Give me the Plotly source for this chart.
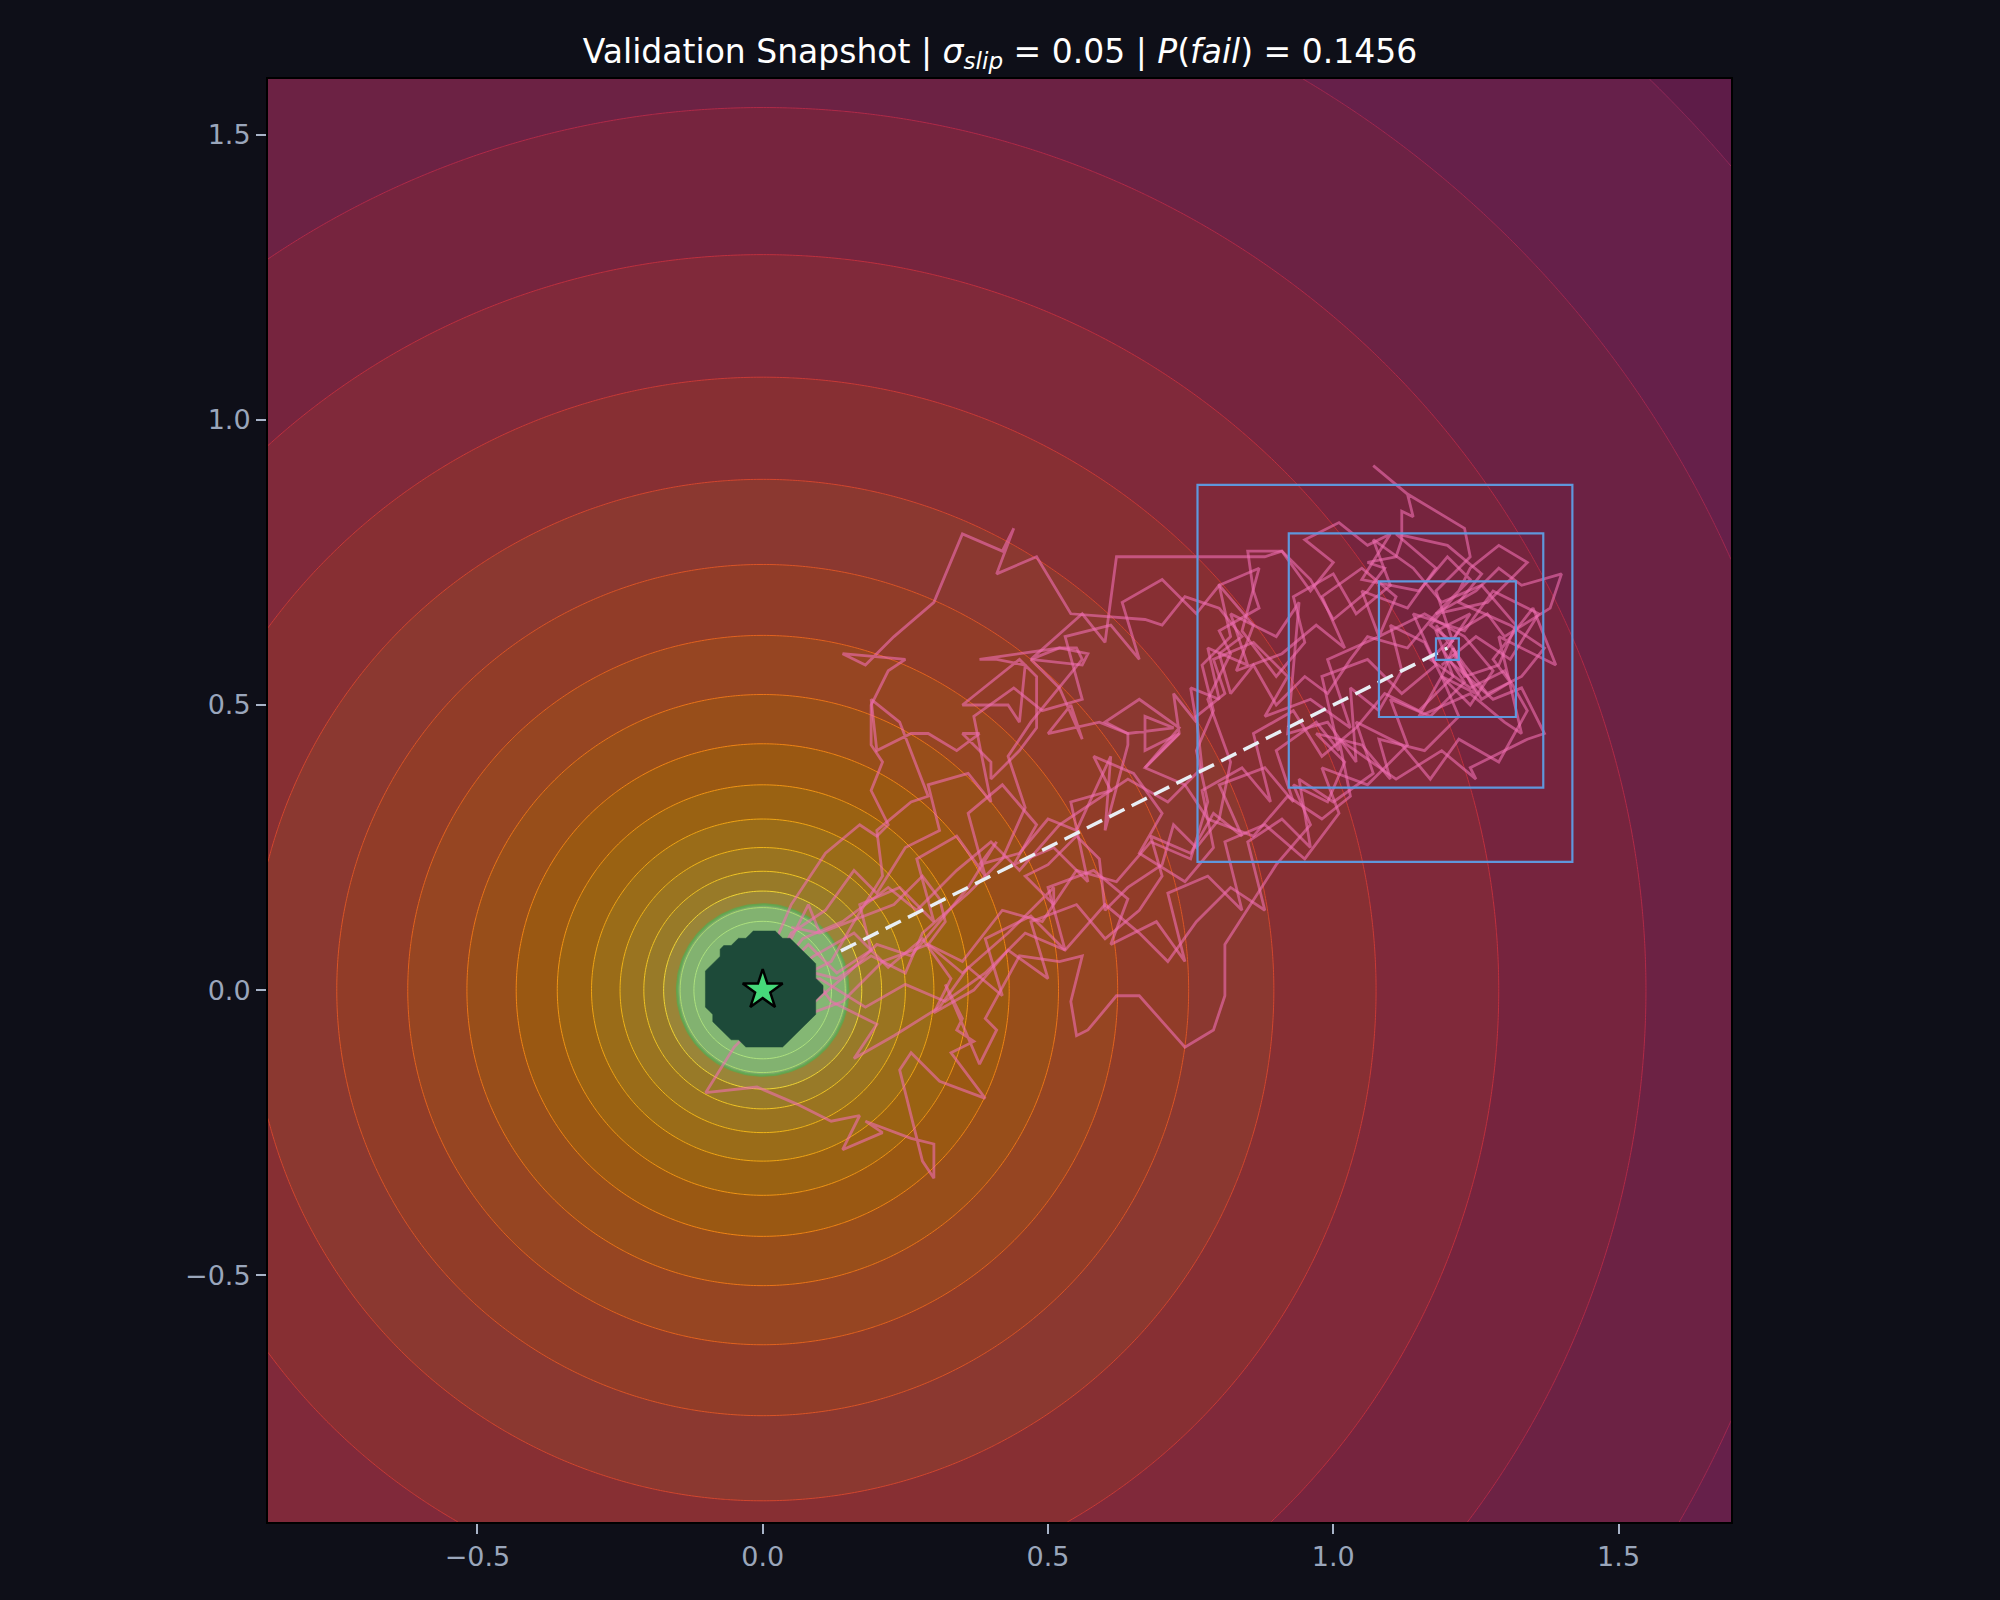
import numpy as np
import plotly.graph_objects as go

# ---------------- data ----------------
x_range = [-0.867, 1.697]
y_range = [-0.933, 1.598]
goal = [0.0, 0.0]
target = [1.2, 0.6]
goal_radius = 0.15
goal_core_radius = 0.1

# contour levels: radii ring_r0 * ring_ratio**k, k = k_min..k_max
ring_r0 = 0.25
ring_ratio = 1.2
k_min, k_max = -4, 12

band_colors = ["#a09a4a", "#9c9142", "#9a8538", "#987a28", "#9a7420", "#9a6c18",
               "#9a6212", "#9a5812", "#984e1a", "#964522", "#913c28", "#8b3830",
               "#872f33", "#80293a", "#76243e", "#6c2244", "#66204a", "#5e1c48"]
line_colors = ["#f4f060", "#f2e448", "#f0d434", "#f0c424", "#f0b418", "#f0a414",
               "#f09414", "#f08414", "#ea7418", "#e2621e", "#da5426", "#d2462e",
               "#c83a36", "#be303e", "#b02a48", "#a02850", "#902858"]

box_x0 = [0.762, 0.922, 1.080, 1.180]
box_x1 = [1.419, 1.368, 1.320, 1.220]
box_y0 = [0.225, 0.355, 0.479, 0.579]
box_y1 = [0.886, 0.801, 0.717, 0.617]

dash_x = [0.137, 1.200]
dash_y = [0.0687, 0.600]

path_a_x = [0.00, -0.02, -0.05, -0.10, -0.01, 0.06, 0.12, 0.17, 0.14, 0.21, 0.18, 0.26, 0.30, 0.30, 0.28, 0.24, 0.26, 0.31, 0.39, 0.33, 0.37, 0.34, 0.35, 0.32, 0.38, 0.41, 0.39, 0.45, 0.52, 0.56, 0.54, 0.55, 0.57, 0.62, 0.66, 0.74, 0.79, 0.81, 0.81, 0.90, 0.96, 0.93, 0.99, 1.02, 0.97, 1.05, 1.10, 1.08, 1.16, 1.22, 1.19, 1.25, 1.21]
path_a_y = [0.00, -0.07, -0.10, -0.18, -0.17, -0.20, -0.23, -0.22, -0.28, -0.25, -0.23, -0.26, -0.27, -0.33, -0.30, -0.14, -0.11, -0.16, -0.19, -0.11, -0.09, -0.07, -0.05, 0.01, -0.13, -0.07, -0.05, 0.06, 0.05, 0.06, -0.02, -0.08, -0.07, -0.01, -0.01, -0.10, -0.07, -0.01, 0.08, 0.22, 0.29, 0.36, 0.33, 0.40, 0.45, 0.43, 0.37, 0.44, 0.42, 0.48, 0.55, 0.52, 0.60]

path_b_x = [0.00, 0.04, 0.08, 0.10, 0.05, 0.10, 0.23, 0.28, 0.31, 0.32, 0.29, 0.35, 0.43, 0.51, 0.51, 0.46, 0.50, 0.55, 0.59, 0.60, 0.62, 0.64, 0.70, 0.72, 0.76, 0.80, 0.82, 0.78, 0.82, 0.80, 0.87, 0.86, 0.85, 0.91, 0.96, 1.00, 1.06, 1.09, 1.06, 1.11, 1.12, 1.12, 1.14, 1.13, 1.07, 1.13, 1.23, 1.24, 1.22, 1.18, 1.21]
path_b_y = [0.00, 0.07, 0.15, 0.10, 0.11, 0.10, 0.15, 0.20, 0.16, 0.12, 0.08, 0.03, 0.10, 0.18, 0.15, 0.20, 0.22, 0.27, 0.23, 0.14, 0.16, 0.18, 0.22, 0.29, 0.25, 0.30, 0.40, 0.51, 0.59, 0.63, 0.67, 0.70, 0.77, 0.77, 0.72, 0.65, 0.70, 0.74, 0.75, 0.76, 0.79, 0.84, 0.83, 0.87, 0.92, 0.87, 0.81, 0.76, 0.74, 0.70, 0.61]

path_c_x = [0.00, 0.02, 0.05, 0.11, 0.17, 0.20, 0.22, 0.19, 0.21, 0.19, 0.19, 0.22, 0.25, 0.14, 0.18, 0.23, 0.30, 0.35, 0.42, 0.44, 0.41, 0.48, 0.54, 0.67, 0.70, 0.74, 0.80, 0.84, 0.80, 0.82, 0.86, 0.90, 0.95, 0.99, 1.03, 1.06, 1.13, 1.18, 1.25, 1.29, 1.33, 1.40, 1.38, 1.30, 1.27, 1.22, 1.20]
path_c_y = [0.00, 0.08, 0.15, 0.24, 0.29, 0.27, 0.29, 0.35, 0.40, 0.43, 0.50, 0.56, 0.58, 0.59, 0.57, 0.62, 0.68, 0.80, 0.77, 0.81, 0.73, 0.76, 0.66, 0.65, 0.64, 0.69, 0.67, 0.62, 0.59, 0.52, 0.57, 0.50, 0.55, 0.52, 0.58, 0.62, 0.60, 0.66, 0.70, 0.74, 0.71, 0.73, 0.67, 0.62, 0.66, 0.63, 0.60]

path_d_x = [0.00, 0.06, 0.12, 0.16, 0.21, 0.20, 0.26, 0.29, 0.24, 0.19, 0.20, 0.26, 0.29, 0.34, 0.38, 0.35, 0.40, 0.40, 0.45, 0.48, 0.48, 0.45, 0.35, 0.43, 0.45, 0.46, 0.41, 0.38, 0.52, 0.57, 0.56, 0.47, 0.52, 0.56, 0.54, 0.50, 0.59, 0.64, 0.72, 0.67, 0.67, 0.73, 0.67, 0.74, 0.78, 0.86, 0.92, 0.98, 1.03, 1.01, 1.11, 1.19, 1.25, 1.24, 1.34, 1.37, 1.33, 1.28, 1.20]
path_d_y = [0.00, 0.02, 0.05, 0.12, 0.20, 0.28, 0.33, 0.34, 0.47, 0.51, 0.42, 0.45, 0.45, 0.42, 0.45, 0.45, 0.40, 0.37, 0.42, 0.46, 0.55, 0.58, 0.50, 0.50, 0.47, 0.57, 0.58, 0.58, 0.60, 0.59, 0.57, 0.58, 0.53, 0.44, 0.50, 0.45, 0.47, 0.45, 0.46, 0.48, 0.42, 0.45, 0.39, 0.36, 0.30, 0.27, 0.34, 0.30, 0.34, 0.44, 0.37, 0.42, 0.37, 0.39, 0.44, 0.45, 0.53, 0.51, 0.58]

path_e_x = [0.00, 0.08, 0.15, 0.20, 0.26, 0.31, 0.36, 0.41, 0.38, 0.45, 0.50, 0.55, 0.61, 0.60, 0.64, 0.64, 0.60, 0.66, 0.73, 0.67, 0.73, 0.72, 0.76, 0.75, 0.80, 0.78, 0.85, 0.82, 0.90, 0.94, 0.92, 0.99, 1.04, 1.03, 1.08, 1.12, 1.10, 1.16, 1.19, 1.15, 1.24, 1.30, 1.33, 1.29, 1.39, 1.35, 1.28, 1.31, 1.26, 1.21]
path_e_y = [0.00, -0.03, 0.03, 0.08, 0.06, 0.12, 0.18, 0.26, 0.22, 0.24, 0.30, 0.28, 0.41, 0.28, 0.43, 0.45, 0.47, 0.51, 0.46, 0.39, 0.45, 0.52, 0.47, 0.53, 0.51, 0.60, 0.57, 0.66, 0.62, 0.68, 0.45, 0.47, 0.40, 0.53, 0.49, 0.56, 0.64, 0.61, 0.55, 0.48, 0.52, 0.47, 0.45, 0.62, 0.57, 0.67, 0.58, 0.54, 0.51, 0.59]

path_f_x = [0.00, 0.05, 0.13, 0.19, 0.25, 0.28, 0.36, 0.42, 0.46, 0.43, 0.47, 0.52, 0.56, 0.55, 0.52, 0.47, 0.56, 0.60, 0.62, 0.74, 0.85, 0.88, 0.91, 0.96, 1.00, 0.95, 1.01, 1.06, 1.10, 1.05, 1.15, 1.20, 1.24, 1.18, 1.27, 1.34, 1.29, 1.24, 1.22, 1.17, 1.21]
path_f_y = [0.00, 0.04, 0.02, 0.06, 0.03, 0.10, 0.17, 0.23, 0.32, 0.41, 0.47, 0.53, 0.58, 0.60, 0.60, 0.58, 0.66, 0.61, 0.76, 0.76, 0.76, 0.76, 0.77, 0.70, 0.75, 0.79, 0.82, 0.78, 0.80, 0.72, 0.70, 0.76, 0.72, 0.66, 0.68, 0.75, 0.78, 0.74, 0.70, 0.64, 0.61]

path_g_x = [0.00, 0.09, 0.16, 0.22, 0.28, 0.33, 0.30, 0.37, 0.43, 0.50, 0.47, 0.55, 0.60, 0.66, 0.70, 0.68, 0.75, 0.79, 0.84, 0.80, 0.88, 0.93, 0.90, 0.97, 1.01, 0.98, 1.06, 1.12, 1.18, 1.14, 1.23, 1.28, 1.36, 1.31, 1.25, 1.19]
path_g_y = [0.00, 0.06, 0.10, 0.04, 0.09, 0.02, -0.04, 0.00, 0.07, 0.02, 0.12, 0.15, 0.09, 0.14, 0.20, 0.27, 0.24, 0.31, 0.27, 0.36, 0.39, 0.33, 0.42, 0.47, 0.42, 0.55, 0.58, 0.52, 0.57, 0.66, 0.63, 0.70, 0.66, 0.58, 0.62, 0.57]

path_h_x = [0.00, 0.07, 0.14, 0.22, 0.27, 0.34, 0.40, 0.45, 0.52, 0.58, 0.64, 0.71, 0.77, 0.76, 0.81, 0.79, 0.86, 0.92, 0.88, 0.96, 1.03, 0.99, 1.08, 1.05, 1.13, 1.18, 1.11, 1.20, 1.26, 1.22, 1.31, 1.37, 1.33, 1.27, 1.23, 1.18, 1.21]
path_h_y = [0.00, 0.09, 0.12, 0.18, 0.14, 0.21, 0.26, 0.21, 0.29, 0.33, 0.37, 0.33, 0.39, 0.48, 0.52, 0.58, 0.61, 0.55, 0.48, 0.51, 0.46, 0.58, 0.62, 0.70, 0.67, 0.74, 0.80, 0.78, 0.73, 0.68, 0.64, 0.60, 0.55, 0.52, 0.57, 0.64, 0.60]

path_i_x = [0.00, 0.05, 0.11, 0.16, 0.20, 0.25, 0.31, 0.29, 0.36, 0.40, 0.37, 0.44, 0.49, 0.56, 0.53, 0.61, 0.66, 0.63, 0.70, 0.76, 0.80, 0.86, 0.83, 0.91, 0.97, 1.02, 0.98, 1.05, 1.11, 1.08, 1.16, 1.23, 1.28, 1.24, 1.19, 1.21]
path_i_y = [0.00, 0.10, 0.14, 0.21, 0.17, 0.25, 0.28, 0.36, 0.38, 0.33, 0.48, 0.53, 0.49, 0.51, 0.62, 0.64, 0.58, 0.68, 0.72, 0.66, 0.71, 0.64, 0.56, 0.59, 0.64, 0.60, 0.69, 0.74, 0.69, 0.62, 0.66, 0.62, 0.56, 0.50, 0.55, 0.60]

path_j_x = [0.00, 0.10, 0.18, 0.25, 0.32, 0.39, 0.46, 0.53, 0.60, 0.66, 0.71, 0.76, 0.82, 0.88, 0.85, 0.91, 0.96, 0.94, 1.00, 1.07, 1.04, 1.12, 1.17, 1.22, 1.29, 1.34, 1.30, 1.24, 1.17, 1.20]
path_j_y = [0.00, 0.02, -0.03, 0.01, -0.02, 0.03, 0.10, 0.07, 0.15, 0.10, 0.05, 0.12, 0.18, 0.14, 0.26, 0.30, 0.25, 0.37, 0.33, 0.38, 0.47, 0.43, 0.37, 0.44, 0.40, 0.49, 0.56, 0.53, 0.58, 0.61]

path_k_x = [0.00, 0.08, 0.13, 0.19, 0.17, 0.24, 0.30, 0.27, 0.34, 0.39, 0.36, 0.42, 0.48, 0.44, 0.51, 0.57, 0.54, 0.61, 0.58, 0.65, 0.70, 0.66, 0.74, 0.79, 0.77, 0.84, 0.89, 0.86, 0.93, 0.98, 1.04, 1.09, 1.15, 1.21, 1.18, 1.24, 1.20]
path_k_y = [0.00, 0.08, 0.03, 0.07, 0.15, 0.18, 0.12, 0.23, 0.27, 0.20, 0.31, 0.36, 0.29, 0.22, 0.25, 0.19, 0.33, 0.35, 0.41, 0.38, 0.31, 0.24, 0.19, 0.25, 0.35, 0.39, 0.33, 0.45, 0.49, 0.41, 0.46, 0.52, 0.49, 0.55, 0.63, 0.66, 0.60]

path_l_x = [0.00, 0.06, 0.14, 0.21, 0.29, 0.35, 0.42, 0.49, 0.55, 0.62, 0.68, 0.75, 0.78, 0.76, 0.79, 0.77, 0.82, 0.80, 0.87, 0.84, 0.90, 0.95, 0.93, 1.00, 1.04, 1.10, 1.07, 1.14, 1.19, 1.26, 1.32, 1.29, 1.23, 1.21]
path_l_y = [0.00, -0.05, -0.02, 0.05, 0.08, 0.05, 0.14, 0.12, 0.21, 0.19, 0.26, 0.23, 0.33, 0.42, 0.49, 0.57, 0.62, 0.71, 0.74, 0.63, 0.55, 0.61, 0.69, 0.73, 0.66, 0.71, 0.79, 0.74, 0.68, 0.71, 0.64, 0.57, 0.55, 0.60]

path_m_x = [0.00, 0.07, 0.12, 0.20, 0.16, 0.23, 0.31, 0.36, 0.42, 0.39, 0.47, 0.53, 0.50, 0.58, 0.64, 0.61, 0.69, 0.74, 0.71, 0.78, 0.84, 0.81, 0.88, 0.95, 1.01, 0.98, 1.06, 1.13, 1.10, 1.17, 1.23, 1.19]
path_m_y = [0.00, 0.05, -0.02, -0.06, -0.12, -0.08, -0.03, 0.04, -0.01, 0.09, 0.13, 0.07, 0.18, 0.21, 0.16, 0.08, 0.12, 0.05, 0.17, 0.20, 0.14, 0.26, 0.29, 0.23, 0.31, 0.39, 0.36, 0.43, 0.51, 0.48, 0.54, 0.60]

paths = [(path_a_x, path_a_y), (path_b_x, path_b_y), (path_c_x, path_c_y),
         (path_d_x, path_d_y), (path_e_x, path_e_y), (path_f_x, path_f_y),
         (path_g_x, path_g_y), (path_h_x, path_h_y), (path_i_x, path_i_y),
         (path_j_x, path_j_y), (path_k_x, path_k_y), (path_l_x, path_l_y),
         (path_m_x, path_m_y)]

title_html = ("Validation Snapshot | <i>σ</i><sub><i>slip</i></sub> = 0.05 | "
              "<i>P</i>(<i>fail</i>) = 0.1456")

# ---------------- styles ----------------
BG = "#0e0f18"
FONT = "DejaVu Sans"
TICK_COLOR = "#9aa6bb"
CORE = "#1d4a39"

fig = go.Figure()

# background field (distance to goal, log-spaced rings)
gx = np.linspace(x_range[0], x_range[1], 450)
gy = np.linspace(y_range[0], y_range[1], 450)
GX, GY = np.meshgrid(gx, gy)
R = np.maximum(np.hypot(GX - goal[0], GY - goal[1]), 1e-4)
Z = np.log(R)
cs = np.log(ring_ratio)
start = np.log(ring_r0) + k_min * cs
n_levels = k_max - k_min + 1
end = start + (n_levels - 1 + 0.4) * cs

fill_scale = [[j / n_levels, c] for j, c in enumerate(band_colors)]
line_scale = [[i / (n_levels - 1), c] for i, c in enumerate(line_colors)]

fig.add_trace(go.Contour(
    x=gx, y=gy, z=Z, colorscale=fill_scale, showscale=False, hoverinfo="skip",
    contours=dict(start=start, end=end, size=cs, coloring="fill", showlines=False),
    line=dict(width=0)))
fig.add_trace(go.Contour(
    x=gx, y=gy, z=Z, colorscale=line_scale, showscale=False, hoverinfo="skip",
    contours=dict(start=start, end=end, size=cs, coloring="lines"),
    line=dict(width=1)))

# goal disc
th = np.linspace(0, 2 * np.pi, 181)
fig.add_trace(go.Scatter(
    x=goal[0] + goal_radius * np.cos(th), y=goal[1] + goal_radius * np.sin(th),
    mode="lines", fill="toself", fillcolor="rgba(104,212,158,0.5)",
    line=dict(color="rgba(90,170,80,0.75)", width=2.5), hoverinfo="skip", showlegend=False))

# trajectories
for px, py in paths:
    fig.add_trace(go.Scatter(x=px, y=py, mode="lines",
                             line=dict(color="rgba(240,110,178,0.6)", width=2.8),
                             hoverinfo="skip", showlegend=False))

# goal core: boundary of a coarse grid mask (marching-squares midpoints)
cx = np.linspace(x_range[0], x_range[1], 200)
cy = np.linspace(y_range[0], y_range[1], 200)
CX, CY = np.meshgrid(cx, cy)
M = np.hypot(CX - goal[0], CY - goal[1]) <= goal_core_radius
pts = []
iy, ix = np.nonzero(M[:, :-1] != M[:, 1:])
pts += [((cx[i] + cx[i + 1]) / 2, cy[j]) for j, i in zip(iy, ix)]
iy, ix = np.nonzero(M[:-1, :] != M[1:, :])
pts += [(cx[i], (cy[j] + cy[j + 1]) / 2) for j, i in zip(iy, ix)]
pts.sort(key=lambda p: np.arctan2(p[1] - goal[1], p[0] - goal[0]))
core_x = [p[0] for p in pts] + [pts[0][0]]
core_y = [p[1] for p in pts] + [pts[0][1]]
fig.add_trace(go.Scatter(x=core_x, y=core_y, mode="lines", fill="toself",
                         fillcolor=CORE, line=dict(color=CORE, width=0.5),
                         hoverinfo="skip", showlegend=False))

# dashed direction line
fig.add_trace(go.Scatter(x=dash_x, y=dash_y, mode="lines",
                         line=dict(color="#e8eef4", width=3.5, dash="17px,8px"),
                         hoverinfo="skip", showlegend=False))

# goal star
fig.add_trace(go.Scatter(x=[goal[0]], y=[goal[1]], mode="markers",
                         marker=dict(symbol="star", size=30, color="#46d97a",
                                     line=dict(color="black", width=2.5)),
                         hoverinfo="skip", showlegend=False))

# search boxes
for x0, x1, y0, y1 in zip(box_x0, box_x1, box_y0, box_y1):
    fig.add_shape(type="rect", xref="x", yref="y", x0=x0, x1=x1, y0=y0, y1=y1,
                  line=dict(color="#5f97dc", width=2.2), fillcolor="rgba(0,0,0,0)",
                  layer="above")

axis_common = dict(showgrid=False, zeroline=False, showline=True, linecolor="black",
                   linewidth=2, mirror=True, ticks="outside", ticklen=10, tickwidth=2,
                   tickcolor="#a8b4c8", tickfont=dict(family=FONT, size=27, color=TICK_COLOR))

fig.update_layout(
    width=2000, height=1600,
    paper_bgcolor=BG, plot_bgcolor=BG,
    margin=dict(l=268, r=269, t=79, b=78),
    showlegend=False,
    title=dict(text=title_html, x=0.5, xanchor="center", y=1 - 51 / 1600, yanchor="middle",
               font=dict(family=FONT, size=33, color="white")),
    xaxis=dict(range=x_range, tickvals=[-0.5, 0, 0.5, 1.0, 1.5],
               ticktext=["−0.5", "0.0", "0.5", "1.0", "1.5"], **axis_common),
    yaxis=dict(range=y_range, tickvals=[-0.5, 0, 0.5, 1.0, 1.5],
               ticktext=["−0.5", "0.0", "0.5", "1.0", "1.5"], **axis_common),
)

fig.write_html("out.html")
